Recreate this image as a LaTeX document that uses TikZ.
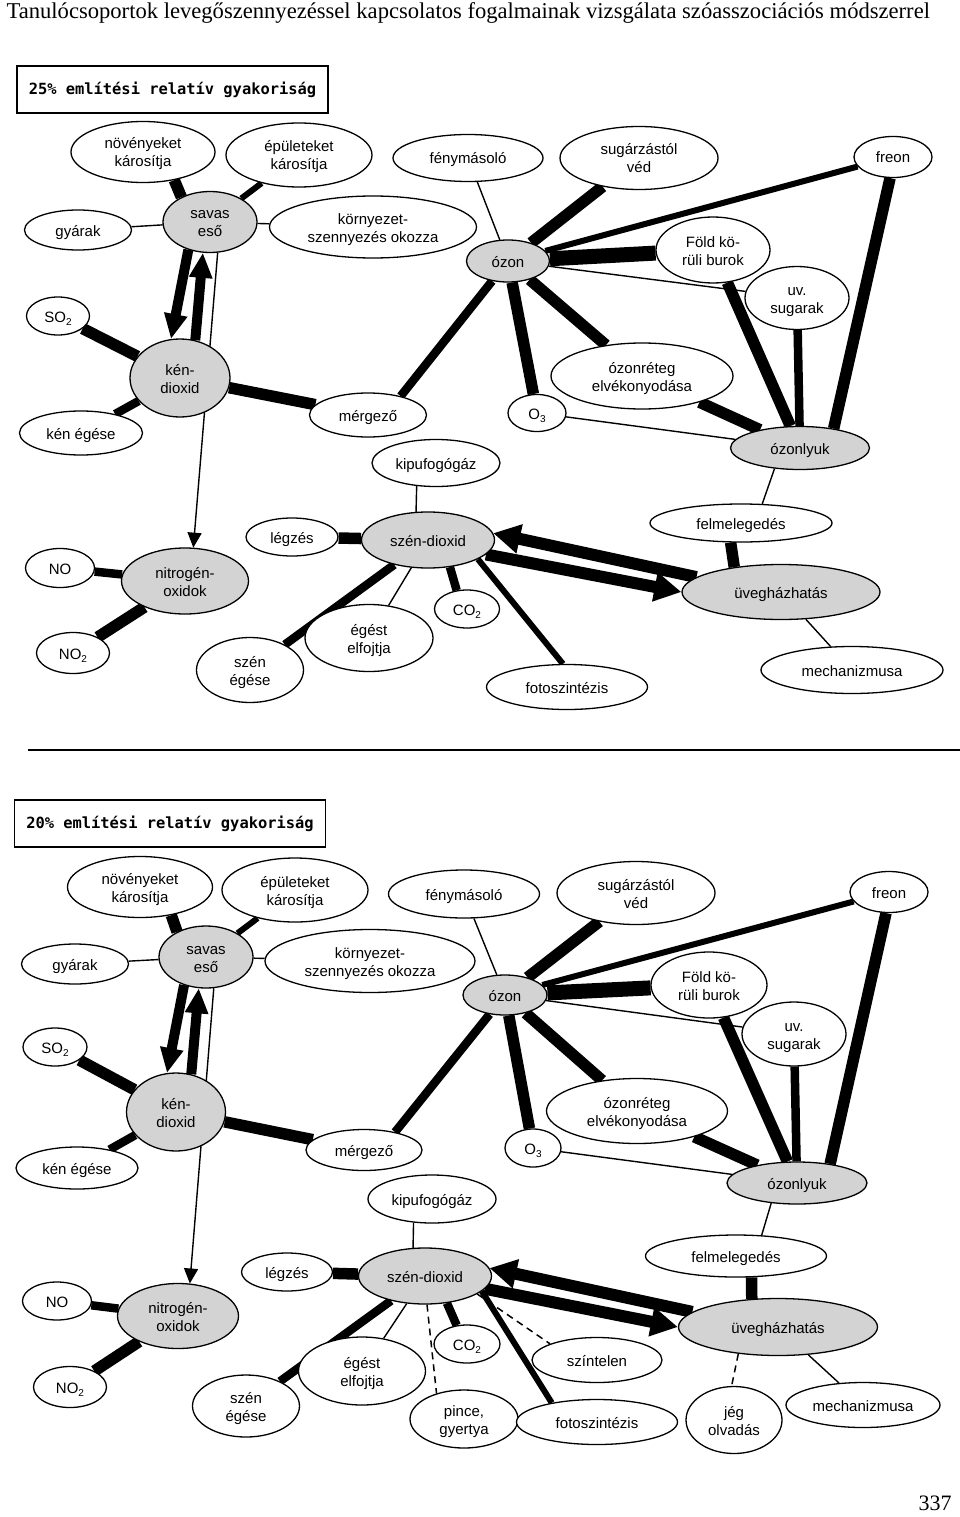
\documentclass[tikz,border=0pt]{standalone}
\usepackage{fontspec}
\setmainfont{Liberation Sans}
\newfontfamily\headfont{Liberation Serif}
\newfontfamily\boxfont{DejaVu Sans Mono}
\usetikzlibrary{shapes.geometric,arrows.meta,backgrounds}
\definecolor{hubgray}{RGB}{211,211,211}
\newcommand{\lbl}[1]{\raisebox{-6pt}[0pt][0pt]{\makebox[0pt]{\begin{tabular}{@{}c@{}}#1\end{tabular}}}}
\newcommand{\idx}[1]{\raisebox{-3pt}{\fontsize{10}{12}\selectfont #1}}
\tikzset{
  oval/.style args={#1/#2}{ellipse, draw, line width=1.3pt, fill=white, inner sep=0pt,
    minimum width=#1pt, minimum height=#2pt},
  hub/.style={fill=hubgray},
  lnthin/.style={line width=1.4pt},
  lnmid/.style={line width=6pt},
  lnthick/.style={line width=8.5pt},
  lnfat/.style={line width=11.5pt},
  lnhuge/.style={line width=15pt},
  lndash/.style={line width=1.5pt, dash pattern=on 7pt off 5pt},
  thinarrow/.style={line width=1.4pt, -{Triangle[width=14pt,length=15pt]}},
  rainarrow/.style={line width=10pt, -{Triangle[width=22pt,length=25pt]}},
  bigarrow/.style={line width=12pt, -{Triangle[width=28pt,length=27pt]}},
  titlebox/.style={draw, line width=1.8pt, inner sep=0pt, minimum width=311pt, minimum height=47pt,
    font=\boxfont\bfseries\fontsize{15.4}{18}\selectfont}
}
\begin{document}
\begin{tikzpicture}[x=1pt, y=-1pt, font=\fontsize{15}{18}\selectfont]

    \useasboundingbox (0,0) rectangle (960,1517);

    \node [anchor=west, font=\headfont\fontsize{22.6}{24}\selectfont] (head) at (3,13)
      {Tanulócsoportok levegőszennyezéssel kapcsolatos fogalmainak vizsgálata szóasszociációs módszerrel};
    \node [titlebox] (boxa) at (172.5,89.5) {25\% említési relatív gyakoriság};
    \node [titlebox] (boxb) at (170,823.5) {20\% említési relatív gyakoriság};
    \coordinate (sepl) at (28,750);
    \coordinate (sepr) at (960,750);
    \draw [line width=1.5pt] (sepl) -- (sepr);
    \node [font=\headfont\fontsize{22}{24}\selectfont] (pnum) at (935,1503) {337};

    % 25%
    \node [oval=144/61] (nova) at (143,152) {\lbl{növényeket\\károsítja}};
    \node [oval=146/64] (epua) at (299,155) {\lbl{épületeket\\károsítja}};
    \node [oval=150/47] (fena) at (468,158) {\lbl{fénymásoló}};
    \node [oval=158/63] (suga) at (639,158) {\lbl{sugárzástól\\véd}};
    \node [oval=78/41] (frea) at (893,157) {\lbl{freon}};
    \node [oval=107/40] (gyaa) at (78,230) {\lbl{gyárak}};
    \node [oval=94/61, hub] (sava) at (210,222) {\lbl{savas\\eső}};
    \node [oval=207/62] (kora) at (373,227) {\lbl{környezet-\\szennyezés okozza}};
    \node [oval=83/42, hub] (ozoa) at (508,261) {\lbl{ózon}};
    \node [oval=114/66] (fola) at (713,250) {\lbl{Föld kö-\\rüli burok}};
    \node [oval=104/63] (uvsa) at (797,298) {\lbl{uv.\\sugarak}};
    \node [oval=63/38] (so2a) at (58,316) {\lbl{SO\idx{2}}};
    \node [oval=100/78, hub] (kena) at (180,378) {\lbl{kén-\\dioxid}};
    \node [oval=123/44] (egea) at (81,433) {\lbl{kén égése}};
    \node [oval=117/44] (mera) at (368,415) {\lbl{mérgező}};
    \node [oval=128/47] (kipa) at (436,463) {\lbl{kipufogógáz}};
    \node [oval=182/66] (reta) at (642,376) {\lbl{ózonréteg\\elvékonyodása}};
    \node [oval=58/37] (o3a) at (537,413) {\lbl{O\idx{3}}};
    \node [oval=139/43, hub] (lyua) at (800,448) {\lbl{ózonlyuk}};
    \node [oval=69/39] (noa) at (60,568) {\lbl{NO}};
    \node [oval=127/66, hub] (nita) at (185,581) {\lbl{nitrogén-\\oxidok}};
    \node [oval=73/41] (no2a) at (73,653) {\lbl{NO\idx{2}}};
    \node [oval=92/38] (lega) at (292,537) {\lbl{légzés}};
    \node [oval=133/56, hub] (szda) at (428,540) {\lbl{szén-dioxid}};
    \node [oval=107/65] (szea) at (250,670) {\lbl{szén\\égése}};
    \node [oval=128/67] (elfa) at (369,638) {\lbl{égést\\elfojtja}};
    \node [oval=65/38] (co2a) at (467,609) {\lbl{CO\idx{2}}};
    \node [oval=182/38] (mela) at (741,523) {\lbl{felmelegedés}};
    \node [oval=198/55, hub] (uvea) at (781,592) {\lbl{üvegházhatás}};
    \node [oval=182/47] (meca) at (852,670) {\lbl{mechanizmusa}};
    \node [oval=161/45] (fota) at (567,687) {\lbl{fotoszintézis}};

    % 20%
    \node [oval=145/61] (novb) at (140,887) {\lbl{növényeket\\károsítja}};
    \node [oval=146/64] (epub) at (295,890) {\lbl{épületeket\\károsítja}};
    \node [oval=151/48] (fenb) at (464,894) {\lbl{fénymásoló}};
    \node [oval=158/63] (sugb) at (636,893) {\lbl{sugárzástól\\véd}};
    \node [oval=78/41] (freb) at (889,892) {\lbl{freon}};
    \node [oval=107/40] (gyab) at (75,964) {\lbl{gyárak}};
    \node [oval=94/62, hub] (savb) at (206,957) {\lbl{savas\\eső}};
    \node [oval=210/63] (korb) at (370,961) {\lbl{környezet-\\szennyezés okozza}};
    \node [oval=84/40, hub] (ozob) at (505,995) {\lbl{ózon}};
    \node [oval=116/66] (folb) at (709,985) {\lbl{Föld kö-\\rüli burok}};
    \node [oval=104/64] (uvsb) at (794,1034) {\lbl{uv.\\sugarak}};
    \node [oval=64/38] (so2b) at (55,1047) {\lbl{SO\idx{2}}};
    \node [oval=99/78, hub] (kenb) at (176,1112) {\lbl{kén-\\dioxid}};
    \node [oval=122/42] (egeb) at (77,1168) {\lbl{kén égése}};
    \node [oval=116/41] (merb) at (364,1150) {\lbl{mérgező}};
    \node [oval=128/48] (kipb) at (432,1199) {\lbl{kipufogógáz}};
    \node [oval=181/65] (retb) at (637,1111) {\lbl{ózonréteg\\elvékonyodása}};
    \node [oval=56/38] (o3b) at (533,1148) {\lbl{O\idx{3}}};
    \node [oval=140/42, hub] (lyub) at (797,1183) {\lbl{ózonlyuk}};
    \node [oval=69/38] (nob) at (57,1301) {\lbl{NO}};
    \node [oval=121/65, hub] (nitb) at (178,1316) {\lbl{nitrogén-\\oxidok}};
    \node [oval=73/41] (no2b) at (70,1387) {\lbl{NO\idx{2}}};
    \node [oval=91/38] (legb) at (287,1272) {\lbl{légzés}};
    \node [oval=133/56, hub] (szdb) at (425,1276) {\lbl{szén-dioxid}};
    \node [oval=107/62] (szeb) at (246,1406) {\lbl{szén\\égése}};
    \node [oval=127/68] (elfb) at (362,1371) {\lbl{égést\\elfojtja}};
    \node [oval=66/38] (co2b) at (467,1344) {\lbl{CO\idx{2}}};
    \node [oval=108/58] (pinb) at (464,1419) {\lbl{pince,\\gyertya}};
    \node [oval=181/42] (melb) at (736,1256) {\lbl{felmelegedés}};
    \node [oval=199/57, hub] (uveb) at (778,1327) {\lbl{üvegházhatás}};
    \node [oval=130/45] (szib) at (597,1360) {\lbl{színtelen}};
    \node [oval=161/45] (fotb) at (597,1422) {\lbl{fotoszintézis}};
    \node [oval=96/67] (jegb) at (734,1420) {\lbl{jég\\olvadás}};
    \node [oval=154/45] (mecb) at (863,1405) {\lbl{mechanizmusa}};

    \begin{scope}[on background layer]
    % 25%
    \draw [lnfat] (nova.-42) to (sava.139);
    \draw [lnmid] (epua) to (sava);
    \draw [lnthin] (gyaa) to (sava);
    \draw [lnthin] (sava) to (kora);
    \draw [rainarrow] (sava.232) to (kena.103);
    \draw [rainarrow] (kena.68) to (sava.257);
    \draw [thinarrow] (sava.284) to (nita.76);
    \draw [lnfat] (so2a) to (kena);
    \draw [lnthick] (egea) to (kena);
    \draw [lnfat] (kena) to (mera);
    \draw [lnthick] (mera.30) to (ozoa);
    \draw [lnthin] (fena) to (ozoa);
    \draw [lnfat] (suga) to (ozoa);
    \draw [lnmid] (frea) to (ozoa);
    \draw [lnhuge] (fola) to (ozoa);
    \draw [lnthin] (ozoa) to (uvsa);
    \draw [lnfat] (ozoa) to (o3a);
    \draw [lnfat] (ozoa) to (reta);
    \draw [lnfat] (fola) to (lyua);
    \draw [lnthick] (uvsa) to (lyua);
    \draw [lnfat] (frea.262) to (lyua.30);
    \draw [lnfat] (reta) to (lyua);
    \draw [lnthin] (o3a) to (lyua);
    \draw [lnthin] (lyua.219) to (mela.42);
    \draw [lnthin] (kipa.230) to (szda.113);
    \draw [lnthick] (noa) to (nita);
    \draw [lnfat] (no2a) to (nita);
    \draw [lnfat] (lega) to (szda);
    \draw [lnthick] (szea) to (szda);
    \draw [lnthin] (elfa) to (szda);
    \draw [lnthick] (co2a.119) to (szda.309);
    \draw [lnmid] (szda.-21) to (fota.100);
    \draw [bigarrow] (uvea.170) to (szda.6);
    \draw [bigarrow] (szda.-14) to (uvea.180);
    \draw [lnfat] (mela.242) to (uvea.152);
    \draw [lnthin] (uvea) to (meca);

    % 20%
    \draw [lnfat] (novb.-42) to (savb.139);
    \draw [lnmid] (epub) to (savb);
    \draw [lnthin] (gyab) to (savb);
    \draw [lnthin] (savb) to (korb);
    \draw [rainarrow] (savb.232) to (kenb.103);
    \draw [rainarrow] (kenb.68) to (savb.257);
    \draw [thinarrow] (savb.284) to (nitb.70);
    \draw [lnfat] (so2b) to (kenb);
    \draw [lnthick] (egeb) to (kenb);
    \draw [lnfat] (kenb) to (merb);
    \draw [lnthick] (merb.30) to (ozob);
    \draw [lnthin] (fenb) to (ozob);
    \draw [lnfat] (sugb) to (ozob);
    \draw [lnmid] (freb) to (ozob);
    \draw [lnhuge] (folb) to (ozob);
    \draw [lnthin] (ozob) to (uvsb);
    \draw [lnfat] (ozob) to (o3b);
    \draw [lnfat] (ozob) to (retb);
    \draw [lnfat] (folb) to (lyub);
    \draw [lnthick] (uvsb) to (lyub);
    \draw [lnfat] (freb.262) to (lyub.30);
    \draw [lnfat] (retb) to (lyub);
    \draw [lnthin] (o3b) to (lyub);
    \draw [lnthin] (lyub.218) to (melb.39);
    \draw [lnthin] (kipb.232) to (szdb.113);
    \draw [lnthick] (nob) to (nitb);
    \draw [lnfat] (no2b) to (nitb);
    \draw [lnfat] (legb) to (szdb);
    \draw [lnthick] (szeb) to (szdb);
    \draw [lnthin] (elfb) to (szdb);
    \draw [lnthick] (co2b.119) to (szdb.309);
    \draw [lndash] (szdb.274) to (pinb.137);
    \draw [lndash] (szdb.-19) to (szib.161);
    \draw [lnmid] (szdb.-15) to (fotb.157);
    \draw [bigarrow] (uveb.170) to (szdb.7);
    \draw [bigarrow] (szdb.-12) to (uveb.180);
    \draw [lnfat] (melb.-54) to (uveb.133);
    \draw [lnthin] (uveb) to (mecb);
    \draw [lndash] (uveb.214) to (jegb.94);
    \end{scope}

\end{tikzpicture}
\end{document}
